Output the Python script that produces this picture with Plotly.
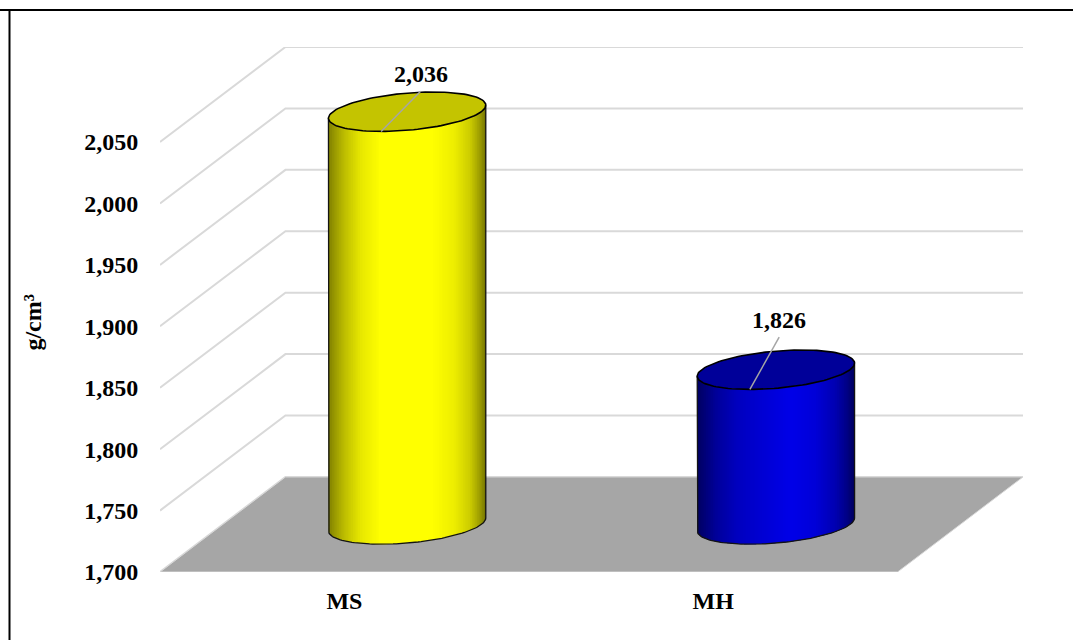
import numpy as np
import plotly.graph_objects as go

# Density per material
categories = ["MS", "MH"]
values = [2036, 1826]
value_labels = ["2,036", "1,826"]
y_ticks = [1700, 1750, 1800, 1850, 1900, 1950, 2000, 2050]

# Cylinder colours
side_colors = [(255, 255, 0), (0, 0, 232)]
top_colors = ["#c4c400", "#000099"]

# Side shading per cylinder: position across the cylinder -> brightness
shade_pos = [
    [0.0, 0.04, 0.10, 0.20, 0.33, 0.66, 0.80, 0.90, 0.96, 1.0],
    [0.0, 0.05, 0.12, 0.25, 0.45, 0.60, 0.75, 0.88, 0.95, 1.0],
]
shade_val = [
    [0.50, 0.60, 0.74, 0.90, 1.00, 1.00, 0.93, 0.80, 0.62, 0.45],
    [0.42, 0.52, 0.66, 0.82, 0.93, 1.00, 0.93, 0.76, 0.58, 0.40],
]

# Oblique projection: how far the back wall is shifted from the front edge
PX_PER_X = 369.0
PX_PER_Y = 1.228
DEPTH_X = 125.5 / PX_PER_X
DEPTH_Y = 95.0 / PX_PER_Y
X_MIN, X_MAX = -0.5, 1.5
Y_MIN, Y_MAX = y_ticks[0], y_ticks[-1]

# Ellipse of a cylinder on the floor, as fractions of category width and depth
RADIUS_A = 74.3 / PX_PER_X
RADIUS_B = 0.2074

GRID = "#d9d9d9"
LEADER = "#a6a6a6"
OUTLINE = "#141414"
FONT = dict(family="Liberation Serif", size=24, color="black")

fig = go.Figure()


def add_poly(xs, ys, fill=None, line=None, width=1.0):
    fig.add_trace(go.Scatter(
        x=list(xs), y=list(ys), mode="lines" if line else "none",
        line=dict(color=line, width=width) if line else None,
        fill="toself" if fill else None, fillcolor=fill,
        hoverinfo="skip", showlegend=False, cliponaxis=False,
    ))


# Back wall and side wall gridlines
for tick in y_ticks:
    add_poly(
        [X_MIN, X_MIN + DEPTH_X, X_MAX + DEPTH_X],
        [tick, tick + DEPTH_Y, tick + DEPTH_Y],
        line=GRID, width=2,
    )

# Floor
add_poly(
    [X_MIN, X_MAX, X_MAX + DEPTH_X, X_MIN + DEPTH_X, X_MIN],
    [Y_MIN, Y_MIN, Y_MIN + DEPTH_Y, Y_MIN + DEPTH_Y, Y_MIN],
    fill="#a6a6a6", line=GRID, width=1,
)

# The ellipse is tilted by the depth axis; t_r is the angle of its right-hand tangent
t_r = np.arctan2(RADIUS_B * DEPTH_X, RADIUS_A)


def ellipse(cx, cy, t):
    return (cx + RADIUS_A * np.cos(t) + RADIUS_B * DEPTH_X * np.sin(t),
            cy + RADIUS_B * DEPTH_Y * np.sin(t))


STRIPES = 90
edges = np.linspace(-1, 1, STRIPES + 1)
front = 2 * np.pi - np.arccos(edges) + t_r  # angles along the visible front half

label_offsets_px = [(13.5, -37.5), (3.3, -49.5)]

for i, value in enumerate(values):
    cx = i + DEPTH_X / 2
    base_y = Y_MIN + DEPTH_Y / 2
    top_y = value + DEPTH_Y / 2

    # Shaded side, painted as narrow overlapping strips
    for k in range(STRIPES):
        t = np.linspace(front[k], front[min(k + 2, STRIPES)], 5)
        xb, yb = ellipse(cx, base_y, t)
        xt, yt = ellipse(cx, top_y, t)
        shade = np.interp((k + 0.5) / STRIPES, shade_pos[i], shade_val[i])
        r, g, b = (int(round(c * shade)) for c in side_colors[i])
        add_poly(np.r_[xb, xt[::-1], xb[0]], np.r_[yb, yt[::-1], yb[0]],
                 fill=f"rgb({r},{g},{b})")

    # Silhouette: left edge, lower arc, right edge
    t = np.linspace(front[0], front[-1], 80)
    xb, yb = ellipse(cx, base_y, t)
    xt0, yt0 = ellipse(cx, top_y, front[0])
    xt1, yt1 = ellipse(cx, top_y, front[-1])
    add_poly(np.r_[xt0, xb, xt1], np.r_[yt0, yb, yt1], line=OUTLINE, width=1.3)

    # Top face
    t = np.linspace(0, 2 * np.pi, 121)
    xt, yt = ellipse(cx, top_y, t)
    add_poly(xt, yt, fill=top_colors[i], line="#000000", width=1.6)

    # Leader from the front of the top face to the value label
    dx, dy = label_offsets_px[i]
    lx0, ly0 = ellipse(cx, top_y, 1.5 * np.pi)
    lx1 = cx + dx / PX_PER_X
    ly1 = top_y - (dy + 17.0) / PX_PER_Y
    add_poly([lx0, lx1], [ly0, ly1], line=LEADER, width=1.5)

    fig.add_annotation(
        x=cx, y=top_y, xref="x", yref="y", text=f"<b>{value_labels[i]}</b>",
        xshift=dx, yshift=-dy, showarrow=False, font=FONT,
        xanchor="center", yanchor="middle",
    )

# Axis title
fig.add_annotation(
    xref="paper", yref="y", x=0, y=1903, xshift=-127,
    text="<b>g/cm³</b>", textangle=-90, showarrow=False, font=FONT,
    xanchor="center", yanchor="middle",
)

fig.update_layout(
    width=1073, height=640,
    margin=dict(l=160, r=50, t=47, b=68),
    paper_bgcolor="white", plot_bgcolor="white",
    showlegend=False, font=FONT,
    xaxis=dict(
        range=[X_MIN, X_MAX + DEPTH_X], tickmode="array",
        tickvals=list(range(len(categories))),
        ticktext=[f"<b>{c}</b>" for c in categories],
        showgrid=False, zeroline=False, showline=False,
        ticks="outside", ticklen=7, tickcolor="rgba(0,0,0,0)", tickfont=FONT,
    ),
    yaxis=dict(
        range=[Y_MIN, Y_MAX + DEPTH_Y], tickmode="array", tickvals=y_ticks,
        ticktext=[f"<b>{v:,}</b>" for v in y_ticks],
        showgrid=False, zeroline=False, showline=False,
        ticks="outside", ticklen=16, tickcolor="rgba(0,0,0,0)", tickfont=FONT,
    ),
    # Frame along the top and left of the page
    shapes=[
        dict(type="line", xref="paper", yref="paper", layer="above",
             x0=-160 / 863, x1=913 / 863, y0=1 + 37 / 525, y1=1 + 37 / 525,
             line=dict(color="black", width=2)),
        dict(type="line", xref="paper", yref="paper", layer="above",
             x0=-150.5 / 863, x1=-150.5 / 863, y0=-68 / 525, y1=1 + 38 / 525,
             line=dict(color="black", width=2)),
    ],
)

fig.write_html("out.html")
